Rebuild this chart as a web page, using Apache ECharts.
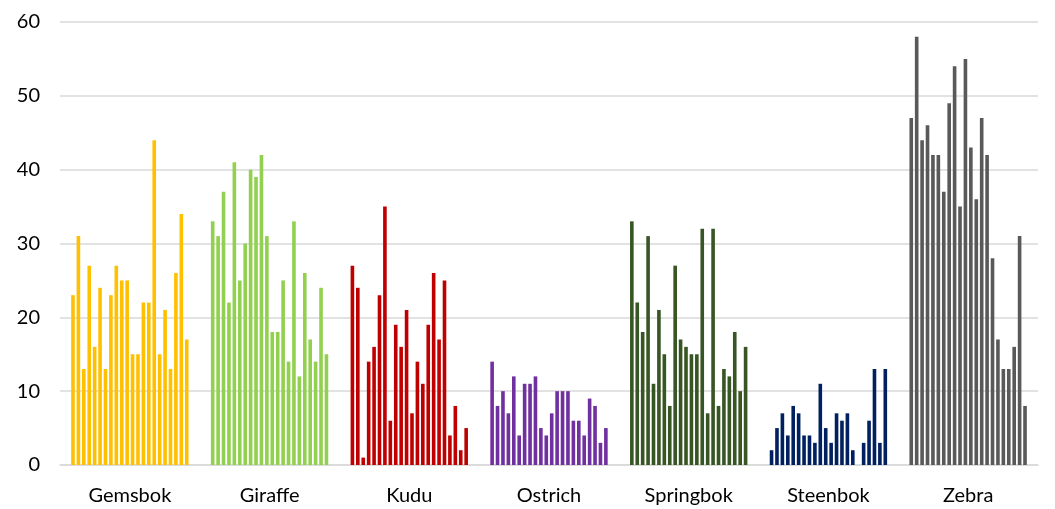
<!DOCTYPE html>
<html>
<head>
<meta charset="utf-8">
<script src="https://cdn.jsdelivr.net/npm/echarts@6/dist/echarts.min.js"></script>
<style>html,body{margin:0;padding:0;background:#fff;}#c{width:1055px;height:509px;}</style>
</head>
<body>
<div id="c"></div>
<script>
const categories = ['Gemsbok','Giraffe','Kudu','Ostrich','Springbok','Steenbok','Zebra'];
const gemsbok   = [23,31,13,27,16,24,13,23,27,25,25,15,15,22,22,44,15,21,13,26,34,17];
const giraffe   = [33,31,37,22,41,25,30,40,39,42,31,18,18,25,14,33,12,26,17,14,24,15];
const kudu      = [27,24,1,14,16,23,35,6,19,16,21,7,14,11,19,26,17,25,4,8,2,5];
const ostrich   = [14,8,10,7,12,4,11,11,12,5,4,7,10,10,10,6,6,4,9,8,3,5];
const springbok = [33,22,18,31,11,21,15,8,27,17,16,15,15,32,7,32,8,13,12,18,10,16];
const steenbok  = [2,5,7,4,8,7,4,4,3,11,5,3,7,6,7,2,0,3,6,13,3,13];
const zebra     = [47,58,44,46,42,42,37,49,54,35,55,43,36,47,42,28,17,13,13,16,31,8];
const yTicks = [0,10,20,30,40,50,60];
const colors = ['#FFC000','#92D050','#C00000','#7030A0','#375623','#002060','#595959'];

const groups = [gemsbok, giraffe, kudu, ostrich, springbok, steenbok, zebra];
const nSeries = gemsbok.length;
const series = [];
for (let s = 0; s < nSeries; s++) {
  series.push({
    type: 'bar',
    name: String(s + 1),
    data: groups.map(g => g[s]),
    barGap: '50%',
    barCategoryGap: '16%',
    itemStyle: { color: p => colors[p.dataIndex] },
    emphasis: { disabled: true },
    animation: false
  });
}
const chart = echarts.init(document.getElementById('c'));
chart.setOption({
  animation: false,
  grid: { left: 60, right: 17, top: 22, bottom: 44, containLabel: false },
  xAxis: {
    type: 'category',
    data: categories,
    axisTick: { show: false },
    axisLine: { lineStyle: { color: '#D9D9D9', width: 1.5 } },
    axisLabel: { color: '#000', fontFamily: 'Lato', fontSize: 20, margin: 21 }
  },
  yAxis: {
    type: 'value',
    min: yTicks[0], max: yTicks[yTicks.length - 1], interval: 10,
    axisLine: { show: false },
    axisTick: { show: false },
    splitLine: { lineStyle: { color: '#D9D9D9', width: 1.5 } },
    axisLabel: { color: '#000', fontFamily: 'Lato', fontSize: 20, margin: 20 }
  },
  series: series
});
</script>
</body>
</html>
